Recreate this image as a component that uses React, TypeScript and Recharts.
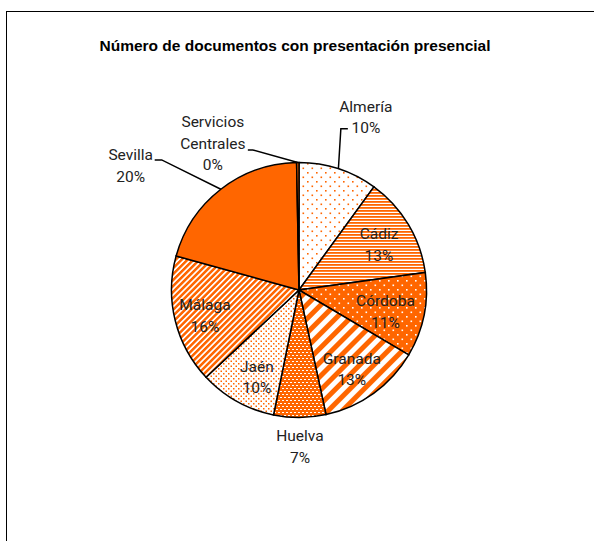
import { Cell, Pie, PieChart } from "recharts";

const REGIONS = [
  "Almería", "Cádiz", "Córdoba", "Granada", "Huelva",
  "Jaén", "Málaga", "Sevilla", "Servicios Centrales",
];
// share of documents (%)
const SHARES = [10.0, 12.8, 10.7, 13.1, 6.6, 9.8, 16.3, 20.4, 0.3];
const FILLS = [
  "url(#pDotsSparse)", "url(#pHoriz)", "url(#pOrangeDots)", "url(#pWideDiag)",
  "url(#pOrangeGrid)", "url(#pDotsDense)", "url(#pLightDiag)", "#FF6600", "#FF6600",
];

const ORANGE = "#FF6600";
const FONT = "Roboto, 'Liberation Sans', sans-serif";

// label placement: radius factor of outerRadius, angular shift (deg, clockwise), leader elbow
type Layout = { r: number; da: number; leader?: { ex: number; hx: number; dy: number } };
const LABEL_LAYOUT: Record<string, Layout> = {
  "Almería": { r: 1.45, da: 3.2, leader: { ex: -25, hx: -18, dy: 11 } },
  "Cádiz": { r: 0.72, da: 1.6 },
  "Córdoba": { r: 0.7, da: 3 },
  "Granada": { r: 0.75, da: 2.3 },
  "Huelva": { r: 1.23, da: 0 },
  "Jaén": { r: 0.76, da: -3.4 },
  "Málaga": { r: 0.765, da: -1.6 },
  "Sevilla": { r: 1.64, da: -15.8, leader: { ex: 31, hx: 24, dy: -6 } },
  "Servicios Centrales": { r: 1.33, da: -30, leader: { ex: 40, hx: 35, dy: 6 } },
};

const data = REGIONS.map((name, i) => ({ name, value: SHARES[i] }));

function polar(cx: number, cy: number, r: number, cw: number) {
  const a = (cw * Math.PI) / 180;
  return { x: cx + r * Math.sin(a), y: cy - r * Math.cos(a) };
}

function renderLabel(props: any) {
  const { cx, cy, midAngle, outerRadius, name, percent } = props;
  const lay = LABEL_LAYOUT[name];
  if (!lay) return null;
  const cw = 90 - midAngle;
  const p = polar(cx, cy, outerRadius * lay.r, cw + lay.da);
  const lines = [...name.split(" "), `${Math.round(percent * 100)}%`];
  const step = 21.5;
  const y0 = p.y - ((lines.length - 1) * step) / 2;
  let leader = null;
  if (lay.leader) {
    const a = polar(cx, cy, outerRadius, cw);
    const ly = p.y + lay.leader.dy;
    leader = (
      <polyline
        points={`${a.x},${a.y} ${p.x + lay.leader.ex},${ly} ${p.x + lay.leader.hx},${ly}`}
        fill="none"
        stroke="#000"
        strokeWidth={1.5}
      />
    );
  }
  return (
    <g key={name}>
      {leader}
      <text x={p.x} textAnchor="middle" fontFamily={FONT} fontSize={15.5} fill="#222">
        {lines.map((l, i) => (
          <tspan key={i} x={p.x} y={y0 + i * step} dominantBaseline="central">
            {l}
          </tspan>
        ))}
      </text>
    </g>
  );
}

function Patterns() {
  return (
    <svg width={0} height={0} style={{ position: "absolute" }}>
      <defs>
        <pattern id="pDotsSparse" width={9} height={9} patternUnits="userSpaceOnUse">
          <rect width={9} height={9} fill="#fff" />
          <rect x={1} y={1} width={1.6} height={1.6} fill={ORANGE} />
          <rect x={5.5} y={5.5} width={1.6} height={1.6} fill={ORANGE} />
        </pattern>
        <pattern id="pHoriz" width={4} height={3} patternUnits="userSpaceOnUse">
          <rect width={4} height={3} fill="#fff" />
          <rect width={4} height={1.8} fill={ORANGE} />
        </pattern>
        <pattern id="pOrangeDots" width={9} height={9} patternUnits="userSpaceOnUse">
          <rect width={9} height={9} fill={ORANGE} />
          <rect x={1} y={1} width={1.6} height={1.6} fill="#fff" />
          <rect x={5.5} y={5.5} width={1.6} height={1.6} fill="#fff" />
        </pattern>
        <pattern id="pWideDiag" width={10} height={10} patternUnits="userSpaceOnUse" patternTransform="rotate(45)">
          <rect width={10} height={10} fill="#fff" />
          <rect width={5} height={10} fill={ORANGE} />
        </pattern>
        <pattern id="pOrangeGrid" width={4} height={6} patternUnits="userSpaceOnUse">
          <rect width={4} height={6} fill={ORANGE} />
          <rect x={0} y={1} width={2} height={1} fill="#fff" />
          <rect x={2} y={4} width={2} height={1} fill="#fff" />
        </pattern>
        <pattern id="pDotsDense" width={5} height={5} patternUnits="userSpaceOnUse">
          <rect width={5} height={5} fill="#fff" />
          <rect x={0.5} y={0.5} width={1.5} height={1.5} fill={ORANGE} />
          <rect x={3} y={3} width={1.5} height={1.5} fill={ORANGE} />
        </pattern>
        <pattern id="pLightDiag" width={4.2} height={4.2} patternUnits="userSpaceOnUse" patternTransform="rotate(45)">
          <rect width={4.2} height={4.2} fill="#fff" />
          <rect width={2.5} height={4.2} fill={ORANGE} />
        </pattern>
      </defs>
    </svg>
  );
}

export default function App() {
  return (
    <div style={{ position: "fixed", left: 0, top: 0, width: 594, height: 541, overflow: "hidden", background: "#fff" }}>
      <Patterns />
      <div
        style={{
          position: "absolute", left: 6, top: 11, width: 700, height: 700,
          borderLeft: "1.5px solid #000", borderTop: "1.5px solid #000",
        }}
      />
      <div
        style={{
          position: "absolute", left: 0, top: 37, width: 590, textAlign: "center",
          fontFamily: "'Liberation Sans', Arial, sans-serif", fontWeight: "bold", fontSize: 15.5, color: "#000",
        }}
      >
        Número de documentos con presentación presencial
      </div>
      <div style={{ position: "absolute", left: 0, top: 0 }}>
        <PieChart width={594} height={541} margin={{ top: 0, right: 0, bottom: 0, left: 0 }}>
          <Pie
            data={data}
            dataKey="value"
            nameKey="name"
            cx={299}
            cy={290}
            outerRadius={127.5}
            startAngle={90}
            endAngle={-270}
            stroke="#000"
            strokeWidth={1.5}
            label={renderLabel}
            labelLine={false}
            isAnimationActive={false}
          >
            {data.map((d, i) => (
              <Cell key={d.name} fill={FILLS[i]} />
            ))}
          </Pie>
        </PieChart>
      </div>
    </div>
  );
}
